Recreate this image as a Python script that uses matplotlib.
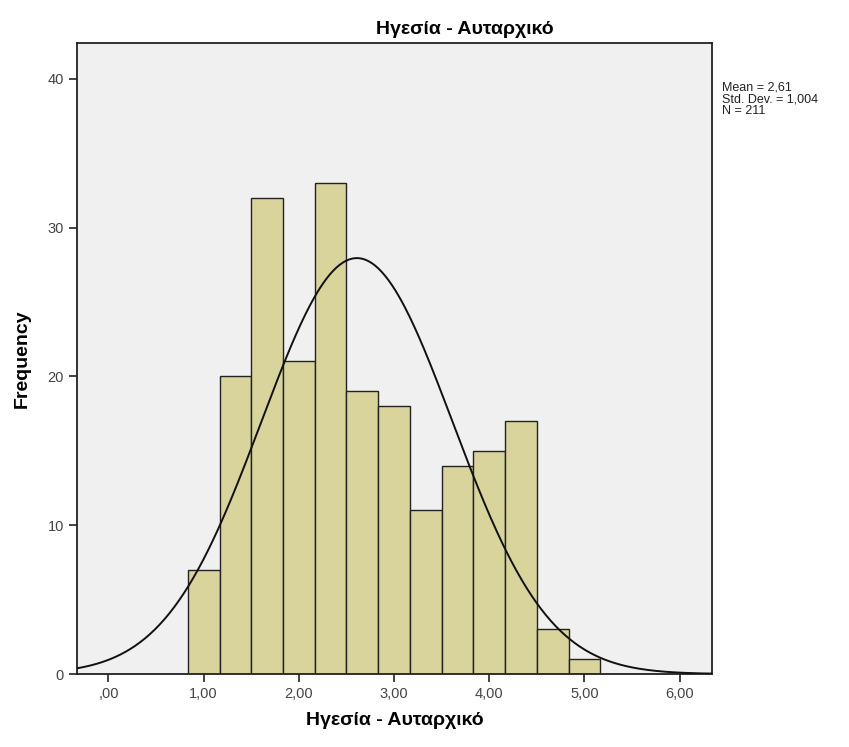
import matplotlib
matplotlib.use('Agg')
import matplotlib.pyplot as plt
import numpy as np

plt.rcParams['font.family'] = ['Liberation Sans', 'DejaVu Sans']

# Histogram data (bin width 1/3, SPSS output)
bin_lefts = [5/6 + i/3 for i in range(13)]
counts = [7, 20, 32, 21, 33, 19, 18, 11, 14, 15, 17, 3, 1]
mean, std, n = 2.61, 1.004, 211
bin_width = 1/3

x_ticks = [0, 1, 2, 3, 4, 5, 6]
x_ticklabels = [',00', '1,00', '2,00', '3,00', '4,00', '5,00', '6,00']
y_ticks = [0, 10, 20, 30, 40]

title = 'Ηγεσία - Αυταρχικό'

fig = plt.figure(figsize=(8.49, 7.47), dpi=100)
ax = fig.add_axes([0.0907, 0.0977, 0.748, 0.8447])
ax.set_facecolor('#f0f0f0')

ax.bar(bin_lefts, counts, width=bin_width, align='edge', color='#d8d49c',
       edgecolor='#222222', linewidth=1.0, zorder=2)

xs = np.linspace(-0.4, 6.4, 400)
ys = n * bin_width / (std * np.sqrt(2 * np.pi)) * np.exp(-0.5 * ((xs - mean) / std) ** 2)
ax.plot(xs, ys, color='#111111', linewidth=1.4, zorder=3)

ax.set_xlim(-0.33, 6.34)
ax.set_ylim(0, 42.4)
ax.set_xticks(x_ticks)
ax.set_xticklabels(x_ticklabels)
ax.set_yticks(y_ticks)
ax.tick_params(direction='out', length=6, width=1.2, labelsize=10.5, colors='#222222',
               labelcolor='#444444')

for sp in ax.spines.values():
    sp.set_linewidth(1.3)
    sp.set_color('#222222')

ax.set_xlabel(title, fontsize=14, fontweight='bold', labelpad=8)
ax.set_ylabel('Frequency', fontsize=14, fontweight='bold', labelpad=12)

fig.text(0.548, 0.961, title, fontsize=14, fontweight='bold', ha='center', va='center')
fig.text(0.851, 0.891, f'Mean = 2,61\nStd. Dev. = 1,004\nN = {n}', fontsize=9,
         ha='left', va='top', color='#222222', linespacing=1.0)

fig.savefig('out.png', dpi=100, facecolor='white')
